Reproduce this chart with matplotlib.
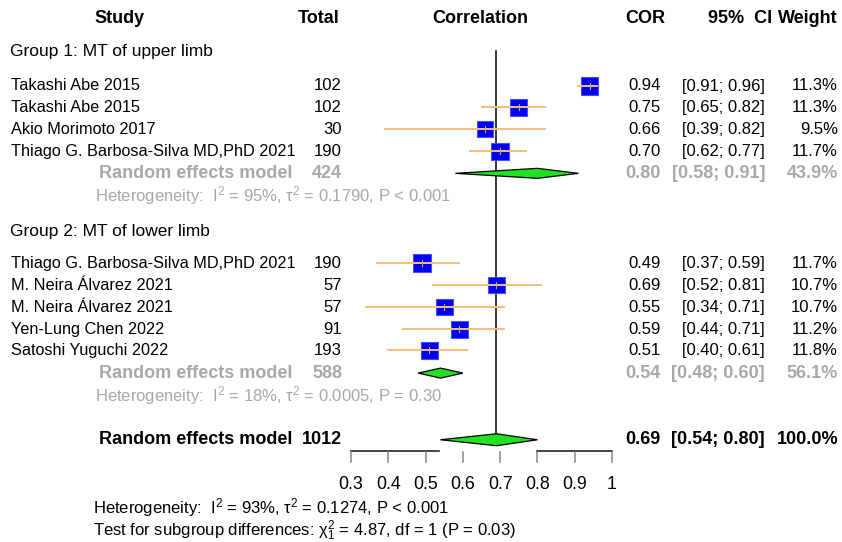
import matplotlib.pyplot as plt
from matplotlib.patches import Rectangle, Polygon
from matplotlib.transforms import blended_transform_factory

plt.rcParams['font.family'] = ['Liberation Sans', 'DejaVu Sans']
plt.rcParams['mathtext.fontset'] = 'custom'
plt.rcParams['mathtext.rm'] = 'Liberation Sans'
plt.rcParams['mathtext.it'] = 'Liberation Sans'
plt.rcParams['mathtext.default'] = 'regular'

# data
g1_label = "Group 1: MT of upper limb"
g1_study = ["Takashi Abe 2015", "Takashi Abe 2015", "Akio Morimoto 2017",
            "Thiago G. Barbosa-Silva MD,PhD 2021"]
g1_total = [102, 102, 30, 190]
g1_cor = [0.94, 0.75, 0.66, 0.70]
g1_lo = [0.91, 0.65, 0.39, 0.62]
g1_hi = [0.96, 0.82, 0.82, 0.77]
g1_w = [11.3, 11.3, 9.5, 11.7]
g1_re = [424, 0.80, 0.58, 0.91, 43.9]
g1_het = r"Heterogeneity:  $I^2$ = 95%, $\tau^2$ = 0.1790, P < 0.001"

g2_label = "Group 2: MT of lower limb"
g2_study = ["Thiago G. Barbosa-Silva MD,PhD 2021", "M. Neira Álvarez 2021",
            "M. Neira Álvarez 2021", "Yen-Lung Chen 2022", "Satoshi Yuguchi 2022"]
g2_total = [190, 57, 57, 91, 193]
g2_cor = [0.49, 0.69, 0.55, 0.59, 0.51]
g2_lo = [0.37, 0.52, 0.34, 0.44, 0.40]
g2_hi = [0.59, 0.81, 0.71, 0.71, 0.61]
g2_w = [11.7, 10.7, 10.7, 11.2, 11.8]
g2_re = [588, 0.54, 0.48, 0.60, 56.1]
g2_het = r"Heterogeneity:  $I^2$ = 18%, $\tau^2$ = 0.0005, P = 0.30"

overall = [1012, 0.69, 0.54, 0.80, 100.0]
overall_het = r"Heterogeneity:  $I^2$ = 93%, $\tau^2$ = 0.1274, P < 0.001"
subgroup_test = r"Test for subgroup differences: $\chi^2_1$ = 4.87, df = 1 (P = 0.03)"
xticks = [0.3, 0.4, 0.5, 0.6, 0.7, 0.8, 0.9, 1.0]
xtick_labels = ["0.3", "0.4", "0.5", "0.6", "0.7", "0.8", "0.9", "1"]

W, H = 842, 542
PX = 372.9          # pixels per unit correlation
ROW = 22.0          # pixels per row
FS = 12
FS_NAME = 11.7
FS_BOLD = 13
GRAY = '#a8a8a8'
CI_COL = '#f2c07c'

fig = plt.figure(figsize=(W / 100, H / 100), dpi=100)
ax = fig.add_axes([0, 0, 1, 1])
ax.set_xlim(0.3 - 351 / PX, 0.3 + (W - 351) / PX)
ax.set_ylim((H - 20) / ROW, -20 / ROW)
ax.axis('off')
tr = blended_transform_factory(ax.transAxes, ax.transData)


def col(px):
    return px / W


def txt(px, r, s, ha='left', color='black', bold=False, size=FS):
    ax.text(col(px), r, s, transform=tr, ha=ha, va='center', fontsize=size,
            color=color, fontweight='bold' if bold else 'normal')


def study_rows(rows, study, total, cor, lo, hi, w):
    for r, st, n, c, l, h, wt in zip(rows, study, total, cor, lo, hi, w):
        txt(11, r, st, size=FS_NAME)
        txt(342, r, str(n), ha='right')
        side = 5.1 * wt ** 0.5
        ax.add_patch(Rectangle((c - side / 2 / PX, r - side / 2 / ROW), side / PX, side / ROW,
                               facecolor='#0000ee', edgecolor='#4a4aff', lw=0.8, zorder=3))
        ax.plot([l, h], [r, r], color=CI_COL, lw=1.4, zorder=4)
        ax.plot([c, c], [r - 3 / ROW, r + 3 / ROW], color='#c8a878', lw=0.8, zorder=4)
        txt(661, r, f"{c:.2f}", ha='right')
        txt(765, r, f"[{l:.2f}; {h:.2f}]", ha='right')
        txt(838, r, f"{wt:.1f}%", ha='right')


def diamond(r, c, l, h, half):
    ax.add_patch(Polygon([(l, r), (c, r - half / ROW), (h, r), (c, r + half / ROW)],
                         closed=True, facecolor='#22e022', edgecolor='black', lw=0.9, zorder=5))


def summary_row(r, vals, color):
    n, c, l, h, wt = vals
    txt(292, r, "Random effects model", ha='right', color=color, bold=True, size=FS_BOLD)
    txt(342, r, str(n), ha='right', color=color, bold=True, size=FS_BOLD)
    txt(661, r, f"{c:.2f}", ha='right', color=color, bold=True, size=FS_BOLD)
    txt(765, r, f"[{l:.2f}; {h:.2f}]", ha='right', color=color, bold=True, size=FS_BOLD)
    txt(838, r, f"{wt:.1f}%", ha='right', color=color, bold=True, size=FS_BOLD)


# header
txt(120, -0.05, "Study", ha='center', bold=True, size=FS_BOLD)
txt(340, -0.05, "Total", ha='right', bold=True, size=FS_BOLD)
txt(480, -0.05, "Correlation", ha='center', bold=True, size=FS_BOLD)
txt(665, -0.05, "COR", ha='right', bold=True, size=FS_BOLD)
txt(772, -0.05, "95%  CI", ha='right', bold=True, size=FS_BOLD)
txt(838, -0.05, "Weight", ha='right', bold=True, size=FS_BOLD)

# reference line at overall estimate
ax.plot([overall[1], overall[1]], [1.4, 19.0], color='black', lw=1.1, zorder=2)

# group 1
txt(10, 1.45, g1_label, size=12.5)
rows1 = [3.0, 3.97, 4.97, 5.97]
study_rows(rows1, g1_study, g1_total, g1_cor, g1_lo, g1_hi, g1_w)
summary_row(6.97, g1_re, GRAY)
diamond(6.97, g1_re[1], g1_re[2], g1_re[3], 5)
txt(95, 7.97, g1_het, color=GRAY)

# group 2
txt(10, 9.62, g2_label, size=12.5)
rows2 = [11.05, 12.05, 13.05, 14.05, 15.02]
study_rows(rows2, g2_study, g2_total, g2_cor, g2_lo, g2_hi, g2_w)
summary_row(16.05, g2_re, GRAY)
diamond(16.05, g2_re[1], g2_re[2], g2_re[3], 5)
txt(95, 17.05, g2_het, color=GRAY)

# overall
summary_row(19.08, overall, 'black')
diamond(19.08, overall[1], overall[2], overall[3], 6)

# x axis (line broken where the overall diamond sits)
ya = 19.6
ax.plot([xticks[0], overall[2] - 0.005], [ya, ya], color='#222222', lw=1.2)
ax.plot([overall[3], xticks[-1]], [ya, ya], color='#222222', lw=1.2)
for t, lab in zip(xticks, xtick_labels):
    ax.plot([t, t], [ya + 0.05, ya + 0.5], color='#888888', lw=1.1)
    ax.text(t, 21.1, lab, ha='center', va='center', fontsize=12.8)

txt(93, 22.15, overall_het)
txt(93, 23.2, subgroup_test)

fig.savefig('out.png', dpi=100)
